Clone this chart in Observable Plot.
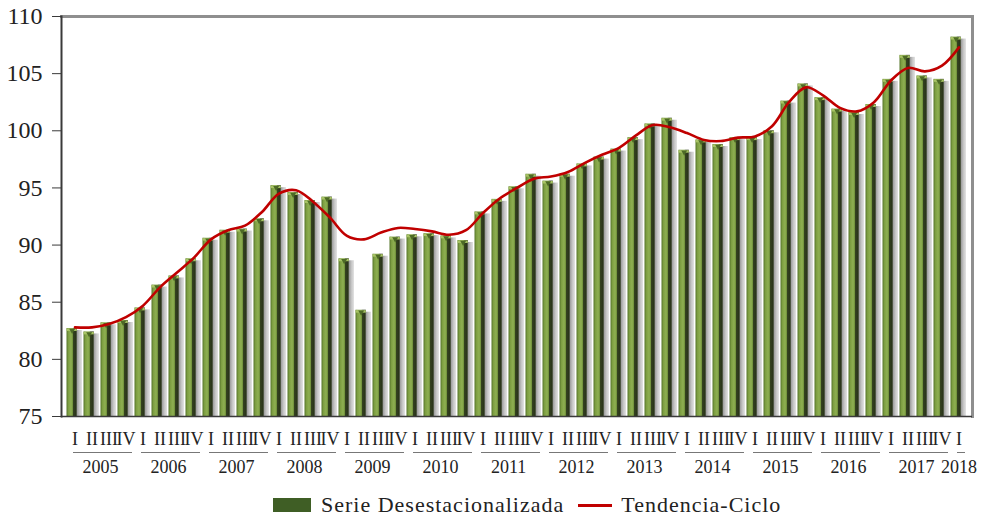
<!DOCTYPE html>
<html>
<head>
<meta charset="utf-8">
<script src="https://cdn.jsdelivr.net/npm/d3@7"></script>
<script src="https://cdn.jsdelivr.net/npm/@observablehq/plot@0.6"></script>
<style>
  html, body { margin: 0; padding: 0; background: #fff; }
  #chart { width: 987px; }
  .legend { display: flex; align-items: center; height: 40px; padding-left: 273px;
            font-family: "Liberation Serif", "Times New Roman", serif; font-size: 22px; letter-spacing: 1px; color: #222; }
  .sw-bar { width: 38px; height: 14px; background: #3f5e25; margin-right: 10px; }
  .sw-line { width: 34px; height: 3px; background: #c00000; margin: 0 9px 0 14px; }
</style>
</head>
<body>
<div id="chart"></div>
<script>
// ---- data ----
const years = [2005, 2006, 2007, 2008, 2009, 2010, 2011, 2012, 2013, 2014, 2015, 2016, 2017, 2018];
const quarters = ["I", "II", "III", "IV"];
const serieDesestacionalizada = [
  82.7, 82.4, 83.2, 83.4,
  84.5, 86.5, 87.3, 88.8,
  90.6, 91.3, 91.4, 92.3,
  95.2, 94.6, 93.9, 94.2,
  88.8, 84.3, 89.2, 90.7,
  90.9, 91.0, 90.8, 90.4,
  92.9, 94.0, 95.1, 96.2,
  95.6, 96.2, 97.1, 97.7,
  98.4, 99.4, 100.6, 101.1,
  98.3, 99.2, 98.8, 99.4,
  99.4, 100.0, 102.6, 104.1,
  102.9, 101.9, 101.6, 102.3,
  104.5, 106.6, 104.8, 104.5,
  108.2
];
const tendenciaCiclo = [
  82.8, 82.8, 83.1, 83.7,
  84.7, 86.3, 87.6, 88.9,
  90.5, 91.3, 91.7, 92.9,
  94.5, 94.8, 93.8, 92.4,
  90.8, 90.5, 91.1, 91.5,
  91.4, 91.2, 90.9, 91.3,
  92.8, 94.1, 95.0, 95.8,
  96.0, 96.4, 97.2, 97.9,
  98.5, 99.6, 100.5, 100.3,
  99.8, 99.2, 99.1, 99.4,
  99.5, 100.4, 102.5, 103.8,
  103.1, 102.0, 101.7, 102.5,
  104.4, 105.5, 105.2, 105.7,
  107.3
];
const yTicks = [75, 80, 85, 90, 95, 100, 105, 110];

// ---- build table ----
const rows = [];
years.forEach(yr => quarters.forEach(q => {
  if (rows.length < serieDesestacionalizada.length) rows.push({year: yr, q, key: `${yr}-${q}`});
}));
rows.forEach((r, i) => { r.v = serieDesestacionalizada[i]; r.t = tendenciaCiclo[i]; });
const keys = rows.map(r => r.key);
const yearGroups = years.map(yr => {
  const ks = rows.filter(r => r.year === yr).map(r => r.key);
  return {year: yr, first: ks[0], last: ks[ks.length - 1], n: ks.length, second: ks[1] || ks[0]};
});
const fullYears = yearGroups.filter(g => g.n === 4);
const partYears = yearGroups.filter(g => g.n < 4);

// ---- layout ----
const W = 987, H = 485, ML = 61, MR = 15, MT = 16, MB = 69;
const bw = (W - ML - MR) / keys.length;
const yMin = yTicks[0];
const font = "'Liberation Serif', 'Times New Roman', serif";

const svg = Plot.plot({
  width: W, height: H,
  marginLeft: ML, marginRight: MR, marginTop: MT, marginBottom: MB,
  style: {fontFamily: font, background: "white", color: "#222", overflow: "visible"},
  x: {type: "band", domain: keys, padding: 0, axis: null},
  y: {domain: [yTicks[0], yTicks[yTicks.length - 1]], axis: null},
  marks: [
    // shadows
    Plot.barY(rows, {x: "key", y1: yMin, y2: "v", fill: "url(#gShadow)", insetLeft: bw * 0.64, insetRight: bw * 0.06, insetTop: 2}),
    // bar face + side
    Plot.barY(rows, {x: "key", y1: yMin, y2: "v", fill: "url(#gBar)", insetLeft: 0.5, insetRight: bw * 0.36}),
    // top cap
    Plot.tickY(rows, {x: "key", y: "v", stroke: "#a8c466", strokeWidth: 2.5, insetLeft: 0.5, insetRight: bw * 0.36, dy: 1.2}),
    Plot.dot(rows, {x: "key", y: "v", symbol: "triangle", rotate: 180, r: 2.2, fill: "#4d6a26", dx: -bw * 0.18 + 0.25, dy: 2}),
    // frame
    Plot.frame({anchor: "top", stroke: "#8f8f8f", strokeWidth: 3}),
    Plot.frame({anchor: "right", stroke: "#8f8f8f", strokeWidth: 3}),
    Plot.frame({anchor: "left", stroke: "#3a3a3a", strokeWidth: 2}),
    Plot.ruleY([yMin], {stroke: "#3a3a3a", strokeWidth: 1.5}),
    // trend line
    Plot.line(rows, {x: "key", y: "t", stroke: "#c00000", strokeWidth: 2.6, curve: "catmull-rom"}),
    // axes
    Plot.axisY(yTicks, {anchor: "left", tickSize: 9, tickPadding: 10, fontSize: 24, fontFamily: font, stroke: "#3a3a3a", fill: "#222"}),
    Plot.axisX({anchor: "bottom", tickSize: 0, tickPadding: 16, fontSize: 18, fontFamily: font, tickFormat: k => k.split("-")[1], fill: "#222"}),
    // year underline and labels
    Plot.ruleY(yearGroups, {y: () => yMin, x1: "first", x2: "last", dy: 36, stroke: "#777", strokeWidth: 1, insetLeft: 7, insetRight: 2}),
    Plot.text(fullYears, {x: "second", y: () => yMin, text: d => String(d.year), dx: bw / 2, dy: 51, fontSize: 18, fontFamily: font, fill: "#222"}),
    Plot.text(partYears, {x: "first", y: () => yMin, text: d => String(d.year), dy: 51, fontSize: 18, fontFamily: font, fill: "#222"})
  ]
});

svg.insertAdjacentHTML("afterbegin", `
<defs>
  <linearGradient id="gBar" x1="0" x2="1" y1="0" y2="0">
    <stop offset="0" stop-color="#56752a"/>
    <stop offset="0.2" stop-color="#7fa043"/>
    <stop offset="0.45" stop-color="#8fb052"/>
    <stop offset="0.63" stop-color="#6b8b36"/>
    <stop offset="0.66" stop-color="#34421f"/>
    <stop offset="1" stop-color="#262f18"/>
  </linearGradient>
  <linearGradient id="gShadow" x1="0" x2="1" y1="0" y2="0">
    <stop offset="0" stop-color="#9c9c9c"/>
    <stop offset="0.5" stop-color="#c6c6c6"/>
    <stop offset="1" stop-color="#e2e2e2"/>
  </linearGradient>
</defs>`);

document.getElementById("chart").appendChild(svg);

const legend = document.createElement("div");
legend.className = "legend";
legend.innerHTML = `<span class="sw-bar"></span><span>Serie Desestacionalizada</span><span class="sw-line"></span><span>Tendencia-Ciclo</span>`;
document.getElementById("chart").appendChild(legend);
</script>
</body>
</html>
